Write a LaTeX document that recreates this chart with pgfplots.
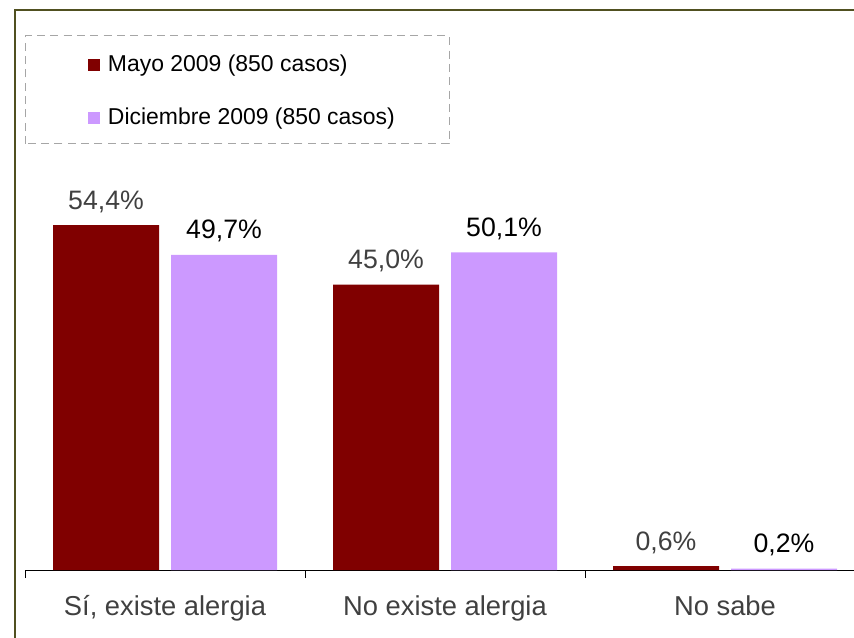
\documentclass[border=0pt]{standalone}
\usepackage{pgfplots}
\pgfplotsset{compat=1.18}
\usepackage{fontspec}
\setmainfont{Liberation Sans}
\definecolor{barred}{HTML}{800000}
\definecolor{barpurple}{HTML}{CC99FF}
\definecolor{frameol}{RGB}{80,80,32}
\definecolor{txtgray}{HTML}{404040}
\begin{document}
\begin{tikzpicture}[x=0.75pt,y=0.75pt]
\path[use as bounding box] (0,0) rectangle (854,637);
\clip (0,0) rectangle (854,637);
\begin{axis}[
  at={(18.75pt,50.25pt)}, anchor=south west,
  scale only axis, width=630pt, height=418.4pt,
  xmin=-0.5, xmax=2.5, ymin=0, ymax=88,
  ybar, bar width=79.5pt,
  axis x line*=bottom, axis y line=none,
  xtick={0,1,2},
  xticklabels={{Sí, existe alergia},{No existe alergia},{No sabe}},
  major tick length=0pt,
  minor xtick={-0.5,0.5,1.5,2.5}, minor tick length=6pt,
  tick align=outside,
  tick style={black, line width=0.75pt},
  axis line style={black, line width=0.75pt},
  xticklabel style={font=\fontsize{20.5}{24}\selectfont, text=txtgray, anchor=base, yshift=-33.75pt},
  ytick=\empty,
  enlargelimits=false,
  nodes near coords={\pgfmathprintnumber[fixed, fixed zerofill, precision=1, use comma, assume math mode=true]{\pgfplotspointmeta}\%},
  every node near coord/.append style={font=\fontsize{20}{24}\selectfont, anchor=base, yshift=12pt, inner sep=0pt},
  legend image code/.code={\fill[#1] (0pt,-4.5pt) rectangle (9pt,4.5pt);},
  legend cell align=left,
  legend style={at={(0.075,0.923)}, anchor=north west, draw=none, fill=none,
    inner sep=0pt, outer sep=0pt, row sep=24.25pt, column sep=6pt,
    font=\fontsize{17.2}{20}\selectfont,
    nodes={inner sep=0pt, text height=12pt, text depth=3.5pt}},
]
\addplot[fill=barred, draw=none, bar shift=-44.25pt, every node near coord/.append style={text=txtgray}] coordinates {(0,54.4) (1,45.0) (2,0.6)};
\addlegendentry{Mayo 2009 (850 casos)}
\addplot[fill=barpurple, draw=none, bar shift=44.25pt, every node near coord/.append style={text=black}] coordinates {(0,49.7) (1,50.1) (2,0.2)};
\addlegendentry{Diciembre 2009 (850 casos)}
\end{axis}
\draw[gray!70, dash pattern=on 6 off 4, line width=0.75pt] (25,493) rectangle (449,601);
\draw[frameol, line width=2pt] (15,-5) -- (15,627) -- (860,627);
\end{tikzpicture}
\end{document}
